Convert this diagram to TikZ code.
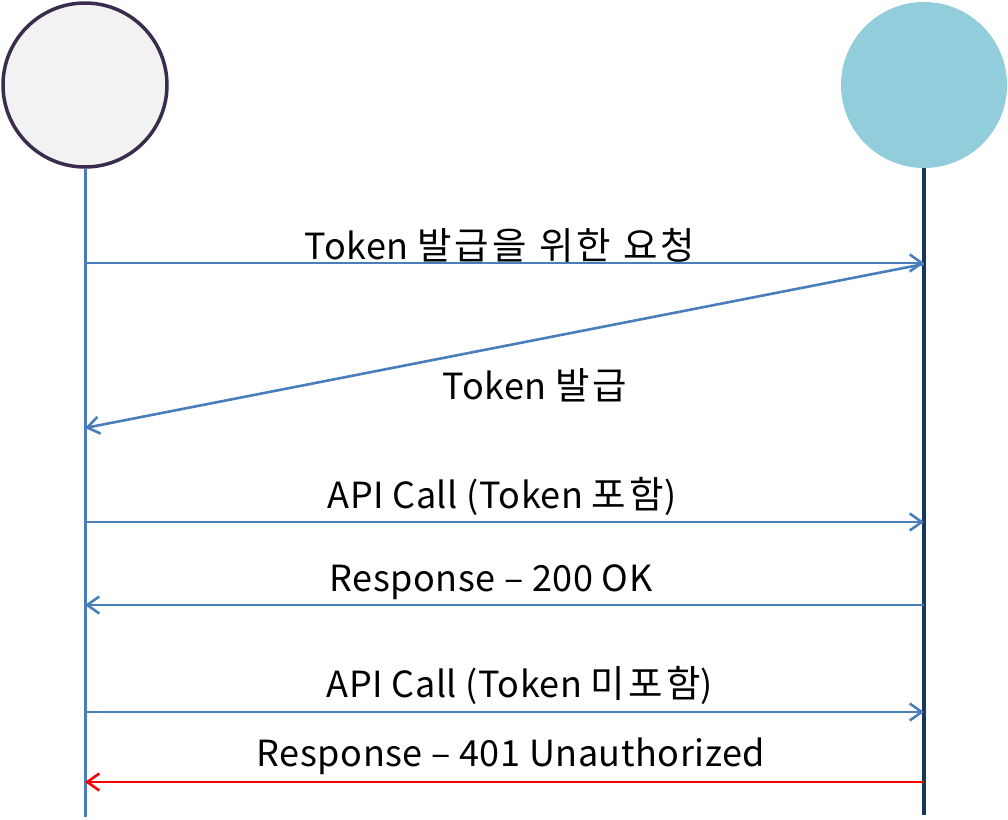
\documentclass[tikz,border=0pt]{standalone}
\usepackage{fontspec}
\setmainfont{Noto Sans CJK KR}[LetterSpace=1.5]
\newfontfamily\kr{Noto Sans CJK KR}[LetterSpace=9,Scale=1.04]
\usetikzlibrary{arrows.meta}
\definecolor{lblue}{HTML}{4A7EBB}
\definecolor{navy}{HTML}{17375E}
\definecolor{cyanfill}{HTML}{92CDDC}
\definecolor{cgray}{HTML}{F2F2F2}
\definecolor{cborder}{HTML}{3B2C4E}
\tikzset{
  msg/.style={draw=lblue, line width=2.6pt, -{Straight Barb[length=12pt,width=17pt]}},
  errmsg/.style={msg, draw=red},
  lbl/.style={font=\fontsize{36}{40}\selectfont, text=black, inner sep=0pt, anchor=base},
  actor/.style={circle, minimum size=164pt, inner sep=0pt}
}
\begin{document}
\begin{tikzpicture}[x=1pt,y=-1pt]
\useasboundingbox (0,0) rectangle (1008,819);
\node[actor, fill=cgray, draw=cborder, line width=3.5pt] (A) at (85,85) {};
\node[actor, fill=cyanfill, minimum size=166pt] (B) at (924,85) {};
\coordinate (Aend) at (85,817);
\coordinate (Bend) at (924,815);
\draw[lblue, line width=3pt] (A.south) -- (Aend);
\draw[navy, line width=3.5pt] (B.south) -- (Bend);
% messages
\coordinate (a1) at (85,263); \coordinate (b1) at (924,263);
\coordinate (b2) at (924,264); \coordinate (a2) at (85,428);
\coordinate (a3) at (85,522); \coordinate (b3) at (924,522);
\coordinate (a4) at (85,605); \coordinate (b4) at (924,605);
\coordinate (a5) at (85,712); \coordinate (b5) at (924,712);
\coordinate (a6) at (85,782); \coordinate (b6) at (924,782);
\draw[msg] (a1) -- (b1);
\draw[msg] (b2) -- (a2);
\draw[msg] (a3) -- (b3);
\draw[msg] (b4) -- (a4);
\draw[msg] (a5) -- (b5);
\draw[errmsg] (b6) -- (a6);
\node[lbl] (t1) at (500,259) {Token {\kr 발급을 위한 요청}};
\node[lbl] (t2) at (535,399) {Token {\kr 발급}};
\node[lbl] (t3) at (502,508) {API Call (Token {\kr 포함})};
\node[lbl] (t4) at (491,591) {Response – 200 OK};
\node[lbl] (t5) at (520,697) {API Call (Token {\kr 미포함})};
\node[lbl] (t6) at (511,766) {Response – 401 Unauthorized};
\end{tikzpicture}
\end{document}
